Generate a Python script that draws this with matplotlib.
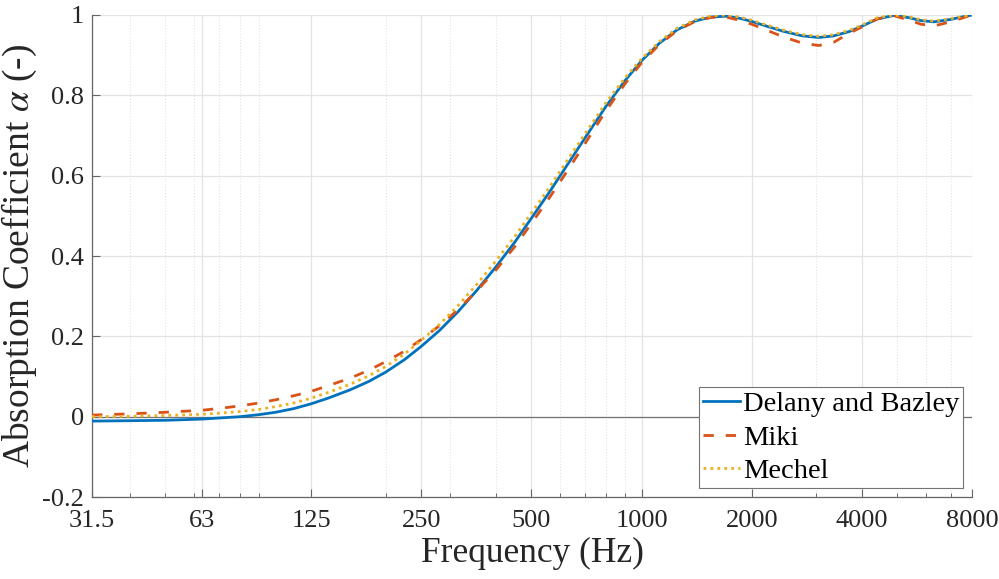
import numpy as np
import matplotlib.pyplot as plt
from matplotlib.ticker import FixedLocator, FixedFormatter, LogLocator, NullFormatter

# frequency grid (Hz) the curves were read at
freq = [31.5, 40, 50, 63, 71, 80, 90, 100, 112, 125, 140, 160, 180, 200, 225, 250,
        280, 315, 355, 400, 450, 500, 560, 630, 710, 800, 900, 1000, 1120, 1250,
        1400, 1550, 1700, 1850, 2000, 2200, 2450, 2750, 3050, 3350, 3700, 4000,
        4400, 4900, 5400, 5800, 6300, 7000, 7500, 8000]

delany_bazley = [-0.011, -0.010, -0.009, -0.006, -0.003, 0.000, 0.005, 0.011, 0.020,
                 0.032, 0.047, 0.067, 0.088, 0.111, 0.142, 0.175, 0.214, 0.261,
                 0.315, 0.373, 0.434, 0.494, 0.559, 0.630, 0.702, 0.773, 0.836,
                 0.886, 0.930, 0.963, 0.985, 0.995, 0.997, 0.992, 0.984, 0.972,
                 0.959, 0.948, 0.944, 0.948, 0.959, 0.972, 0.990, 0.999, 0.993,
                 0.986, 0.983, 0.989, 0.995, 1.000]

miki = [0.004, 0.007, 0.011, 0.016, 0.021, 0.027, 0.034, 0.042, 0.052, 0.063,
        0.078, 0.096, 0.116, 0.137, 0.163, 0.192, 0.226, 0.266, 0.314, 0.365,
        0.423, 0.481, 0.545, 0.615, 0.688, 0.762, 0.828, 0.881, 0.927, 0.961,
        0.984, 0.994, 0.995, 0.987, 0.977, 0.962, 0.945, 0.930, 0.924, 0.932,
        0.955, 0.970, 0.990, 0.998, 0.987, 0.977, 0.973, 0.983, 0.992, 1.000]

mechel = [0.000, 0.001, 0.003, 0.006, 0.009, 0.013, 0.018, 0.025, 0.034, 0.046,
          0.061, 0.081, 0.102, 0.125, 0.156, 0.190, 0.229, 0.276, 0.330, 0.388,
          0.448, 0.507, 0.571, 0.641, 0.712, 0.782, 0.843, 0.891, 0.934, 0.967,
          0.988, 0.998, 1.000, 0.995, 0.987, 0.975, 0.962, 0.951, 0.947, 0.951,
          0.962, 0.975, 0.993, 1.000, 0.995, 0.988, 0.985, 0.991, 0.996, 1.000]

xticks = [31.5, 63, 125, 250, 500, 1000, 2000, 4000, 8000]
xtick_labels = ["31.5", "63", "125", "250", "500", "1000", "2000", "4000", "8000"]
yticks = [-0.2, 0, 0.2, 0.4, 0.6, 0.8, 1]
ytick_labels = ["-0.2", "0", "0.2", "0.4", "0.6", "0.8", "1"]

plt.rcParams['font.family'] = ['Liberation Serif', 'DejaVu Serif']
plt.rcParams['mathtext.fontset'] = 'stix'

fig = plt.figure(figsize=(9.99, 5.79), dpi=100)
ax = fig.add_axes([0.0921, 0.1416, 0.8809, 0.8325])

ax.axhline(0, color='0.45', lw=0.9, zorder=1)

ax.plot(freq, delany_bazley, color='#0072BD', lw=2.0, label='Delany and Bazley', zorder=3)
ax.plot(freq, miki, color='#D95319', lw=2.0, ls=(0, (3.7, 4.3)), dash_capstyle='butt',
        label='Miki', zorder=3)
ax.plot(freq, mechel, color='#EDB120', lw=2.0, ls=(0, (1, 1.5)), dash_capstyle='butt',
        label='Mechel', zorder=4)

ax.set_xscale('log')
ax.set_xlim(31.5, 8000)
ax.set_ylim(-0.2, 1)

ax.xaxis.set_major_locator(FixedLocator(xticks))
ax.xaxis.set_major_formatter(FixedFormatter(xtick_labels))
ax.xaxis.set_minor_locator(LogLocator(base=10, subs=np.arange(2, 10), numticks=20))
ax.xaxis.set_minor_formatter(NullFormatter())
ax.set_yticks(yticks)
ax.set_yticklabels(ytick_labels)

ax.grid(True, which='major', color='#e3e3e3', lw=0.9, ls='-', zorder=0)
ax.grid(True, which='minor', axis='x', color='#e3e3e3', lw=0.8, ls=':', zorder=0)
ax.set_axisbelow(True)

for s in ['top', 'right']:
    ax.spines[s].set_visible(False)
for s in ['left', 'bottom']:
    ax.spines[s].set_color('0.4')
    ax.spines[s].set_linewidth(0.9)

ax.tick_params(which='major', direction='in', length=6, width=0.8, colors='0.4',
               labelcolor='#262626', labelsize=19)
ax.tick_params(axis='x', which='major', pad=9)
ax.tick_params(axis='y', which='major', pad=6)
ax.tick_params(which='minor', direction='in', length=3, width=0.7, colors='0.4')

ax.set_xlabel('Frequency (Hz)', fontsize=25.5, color='#262626', labelpad=4)
ax.set_ylabel(r'Absorption Coefficient $\alpha$ (-)', fontsize=27, color='#262626', labelpad=2)

leg = ax.legend(loc='lower right', fontsize=20.5, frameon=True, fancybox=False,
                edgecolor='0.45', framealpha=1, handlelength=1.3, handletextpad=0.1,
                borderpad=0.15, labelspacing=0.27, borderaxespad=0.3)
leg.get_frame().set_linewidth(0.8)

fig.savefig('out.png', dpi=100)
